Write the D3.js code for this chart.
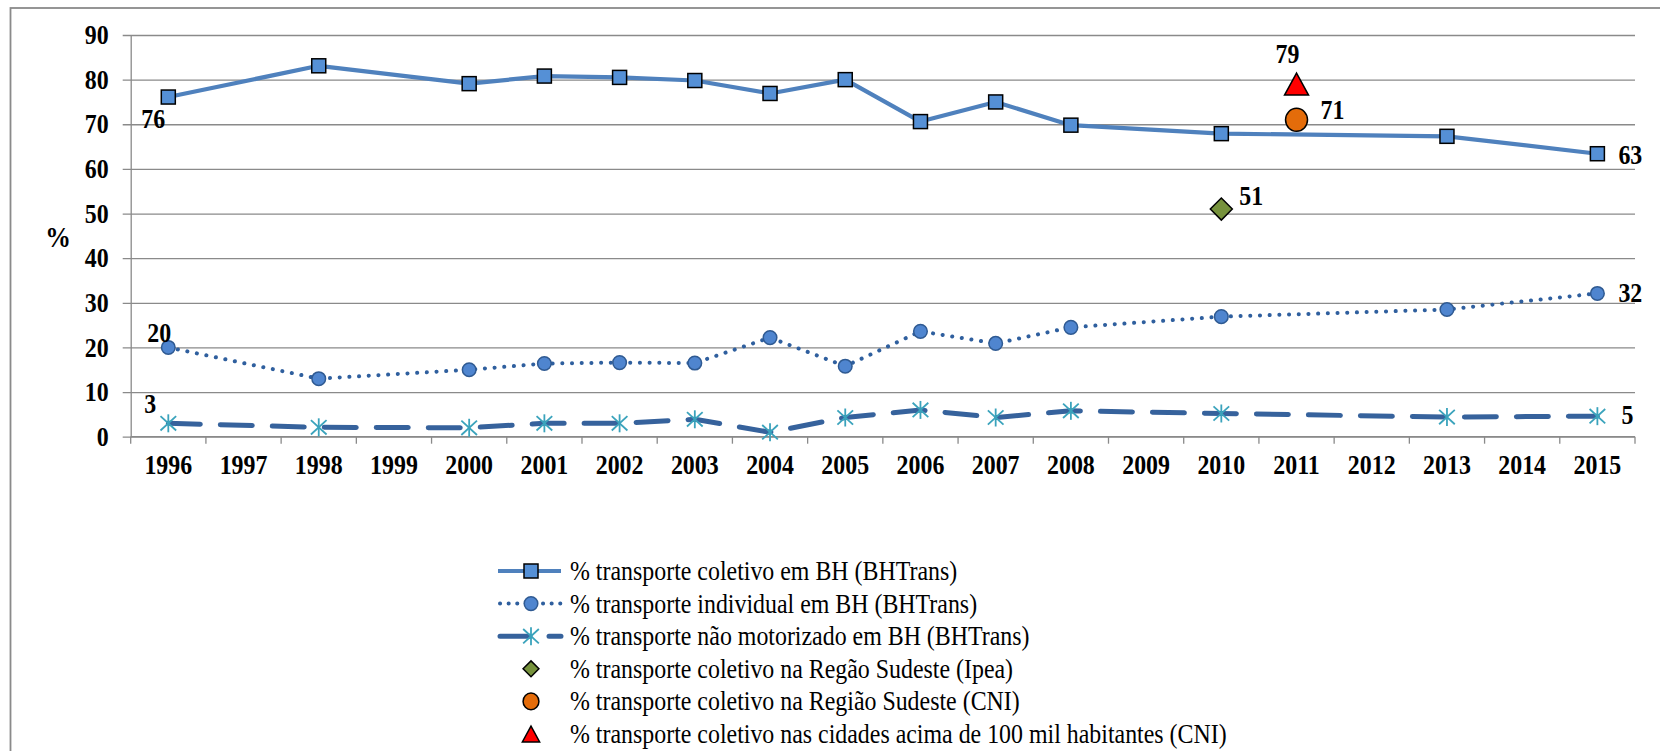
<!DOCTYPE html>
<html>
<head>
<meta charset="utf-8">
<script src="https://cdn.jsdelivr.net/npm/d3@7"></script>
<style>
  html, body { margin: 0; padding: 0; background: #fff; }
  svg { display: block; }
  text { font-family: "Liberation Serif", "Times New Roman", serif; }
</style>
</head>
<body>
<svg id="chart" width="1660" height="751"></svg>
<script>
// ---------- data ----------
const categories = ["1996","1997","1998","1999","2000","2001","2002","2003","2004","2005",
                    "2006","2007","2008","2009","2010","2011","2012","2013","2014","2015"];
const coletivoBH   = [76.1, null, 83.1, null, 79.1, 80.8, 80.5, 79.8, 76.9, 80.0,
                      70.6, 75.0, 69.8, null, 67.9, null, null, 67.3, null, 63.4];
const individualBH = [20.0, null, 13.0, null, 15.0, 16.4, 16.6, 16.5, 22.2, 15.8,
                      23.6, 20.9, 24.5, null, 26.9, null, null, 28.5, null, 32.1];
const naoMotorBH   = [3.0, null, 2.1, null, 2.0, 3.0, 3.0, 3.9, 1.0, 4.3,
                      6.0, 4.3, 5.8, null, 5.2, null, null, 4.4, null, 4.6];
const ipeaSudeste  = [{year: "2010", value: 51}];
const cniSudeste   = [{year: "2011", value: 71}];
const cni100mil    = [{year: "2011", value: 79}];
const yTicks = [0, 10, 20, 30, 40, 50, 60, 70, 80, 90];
const legendLabels = [
  "% transporte coletivo em BH (BHTrans)",
  "% transporte individual em BH (BHTrans)",
  "% transporte não motorizado em BH (BHTrans)",
  "% transporte coletivo na Regão Sudeste (Ipea)",
  "% transporte coletivo na Região Sudeste (CNI)",
  "% transporte coletivo nas cidades acima de 100 mil habitantes (CNI)"
];
const yAxisTitle = "%";

// ---------- layout ----------
const svg = d3.select("#chart");
const plot = {left: 130.7, right: 1635, top: 35, bottom: 436.7};

const x = d3.scaleBand().domain(categories).range([plot.left, plot.right]).padding(0);
const y = d3.scaleLinear().domain([0, 90]).range([plot.bottom, plot.top]);
const cx = c => x(c) + x.bandwidth() / 2;

const gridColor = "#8a8a8a";
const fontFam = '"Liberation Serif", "Times New Roman", serif';
const FS = 27;          // font size
const SX = 0.885;       // horizontal text compression seen in the reference

// outer frame (extends beyond right/bottom edges)
svg.append("rect")
  .attr("x", 10.5).attr("y", 8)
  .attr("width", 1700).attr("height", 800)
  .attr("fill", "none").attr("stroke", gridColor).attr("stroke-width", 1.8);

// gridlines + y axis
const yAxis = d3.axisLeft(y).tickValues(yTicks)
  .tickSize(-(plot.right - plot.left)).tickSizeOuter(0).tickPadding(22);
const gy = svg.append("g").attr("transform", `translate(${plot.left},0)`).call(yAxis);
gy.attr("font-family", null).attr("font-size", null);
gy.select(".domain").attr("stroke", gridColor).attr("stroke-width", 1.3);
gy.selectAll(".tick line")
  .attr("x1", -8)
  .attr("stroke", gridColor).attr("stroke-width", 1.3);
gy.selectAll(".tick text")
  .attr("font-family", fontFam).attr("font-size", FS).attr("font-weight", "bold")
  .attr("fill", "#000");

// x axis with ticks at category boundaries
const gx = svg.append("g").attr("transform", `translate(0,${plot.bottom})`)
  .call(d3.axisBottom(x).tickSize(0));
gx.attr("font-family", null).attr("font-size", null);
gx.select(".domain").remove();
gx.selectAll(".tick text")
  .attr("y", 37.5).attr("dy", null)
  .attr("font-family", fontFam).attr("font-size", FS).attr("font-weight", "bold")
  .attr("fill", "#000");
gx.selectAll(".tick line").remove();
const boundaries = categories.map(c => x(c)).concat([x(categories[categories.length - 1]) + x.bandwidth()]);
svg.append("g").selectAll("line").data(boundaries).join("line")
  .attr("x1", d => d).attr("x2", d => d)
  .attr("y1", plot.bottom).attr("y2", plot.bottom + 7)
  .attr("stroke", gridColor).attr("stroke-width", 1.3);
svg.append("line")
  .attr("x1", plot.left).attr("x2", plot.right)
  .attr("y1", plot.bottom).attr("y2", plot.bottom)
  .attr("stroke", gridColor).attr("stroke-width", 1.3);

// y axis title
svg.append("text").text(yAxisTitle)
  .attr("x", 58).attr("y", 247)
  .attr("text-anchor", "middle")
  .attr("font-family", fontFam).attr("font-size", 29).attr("font-weight", "bold");

// ---------- series ----------
const toPoints = arr => categories.map((c, i) => ({c, v: arr[i]})).filter(d => d.v != null);
const line = d3.line().x(d => cx(d.c)).y(d => y(d.v));

const s1 = toPoints(coletivoBH), s2 = toPoints(individualBH), s3 = toPoints(naoMotorBH);

const styles = {
  s1: {stroke: "#4F81BD", width: 4.2},
  s2: {stroke: "#2F5F9E", width: 4, dash: "0.1,9.6"},
  s3: {stroke: "#36629C", width: 5, dash: "32,20"}
};

svg.append("path").datum(s3).attr("d", line)
  .attr("fill", "none").attr("stroke", styles.s3.stroke).attr("stroke-width", styles.s3.width)
  .attr("stroke-dasharray", styles.s3.dash).attr("stroke-linecap", "round").attr("stroke-linejoin", "round");
svg.append("path").datum(s2).attr("d", line)
  .attr("fill", "none").attr("stroke", styles.s2.stroke).attr("stroke-width", styles.s2.width)
  .attr("stroke-dasharray", styles.s2.dash).attr("stroke-linecap", "round");
svg.append("path").datum(s1).attr("d", line)
  .attr("fill", "none").attr("stroke", styles.s1.stroke).attr("stroke-width", styles.s1.width)
  .attr("stroke-linejoin", "round");

// marker drawers (k = size factor)
function square(g, px, py, k = 1) {
  const s = 14 * k;
  g.append("rect").attr("x", px - s / 2).attr("y", py - s / 2).attr("width", s).attr("height", s)
    .attr("fill", "#5590D6").attr("stroke", "#000").attr("stroke-width", 1.5);
}
function dot(g, px, py, k = 1) {
  g.append("circle").attr("cx", px).attr("cy", py).attr("r", 6.8 * k)
    .attr("fill", "#4F85CF").attr("stroke", "#2F5A92").attr("stroke-width", 1.5);
}
function star(g, px, py, k = 1) {
  const r = 9 * k, c = "#3AA3BC";
  const gg = g.append("g").attr("stroke", c).attr("stroke-width", 1.8);
  gg.append("line").attr("x1", px).attr("x2", px).attr("y1", py - r).attr("y2", py + r);
  gg.append("line").attr("x1", px - r * 0.87).attr("x2", px + r * 0.87).attr("y1", py - r * 0.8).attr("y2", py + r * 0.8);
  gg.append("line").attr("x1", px - r * 0.87).attr("x2", px + r * 0.87).attr("y1", py + r * 0.8).attr("y2", py - r * 0.8);
}
function diamond(g, px, py, k = 1) {
  const r = 11 * k;
  g.append("path").attr("d", `M${px},${py - r}L${px + r},${py}L${px},${py + r}L${px - r},${py}Z`)
    .attr("fill", "#76923C").attr("stroke", "#000").attr("stroke-width", 1.5);
}
function orange(g, px, py, k = 1) {
  g.append("ellipse").attr("cx", px).attr("cy", py).attr("rx", 11 * k).attr("ry", 11.5 * k)
    .attr("fill", "#E46C0A").attr("stroke", "#000").attr("stroke-width", 1.5);
}
function triangle(g, px, py, k = 1) {
  const w = 12 * k, h = 11 * k;
  g.append("path").attr("d", `M${px},${py - h}L${px + w},${py + h}L${px - w},${py + h}Z`)
    .attr("fill", "#FF0000").attr("stroke", "#000").attr("stroke-width", 1.5);
}

const mk = svg.append("g");
s3.forEach(d => star(mk, cx(d.c), y(d.v)));
s2.forEach(d => dot(mk, cx(d.c), y(d.v)));
s1.forEach(d => square(mk, cx(d.c), y(d.v)));
ipeaSudeste.forEach(d => diamond(mk, cx(d.year), y(d.value)));
cniSudeste.forEach(d => orange(mk, cx(d.year), y(d.value)));
cni100mil.forEach(d => triangle(mk, cx(d.year), y(d.value)));

// ---------- data labels ----------
const fmt = d3.format(".0f");
const labels = svg.append("g");
function label(txt, px, py, anchor) {
  labels.append("text").text(txt).attr("x", px).attr("y", py).attr("text-anchor", anchor || "start")
    .attr("font-family", fontFam).attr("font-size", FS).attr("font-weight", "bold").attr("fill", "#000");
}
const first = a => a[0], last = a => a[a.length - 1];
label(fmt(first(s1).v), cx(first(s1).c) - 15, y(first(s1).v) + 31, "middle");
label(fmt(first(s2).v), cx(first(s2).c) - 9, y(first(s2).v) - 5, "middle");
label(fmt(first(s3).v), cx(first(s3).c) - 18, y(first(s3).v) - 10, "middle");
label(fmt(last(s1).v), cx(last(s1).c) + 21, y(last(s1).v) + 10);
label(fmt(last(s2).v), cx(last(s2).c) + 21, y(last(s2).v) + 9);
label(fmt(last(s3).v), cx(last(s3).c) + 24, y(last(s3).v) + 8);
ipeaSudeste.forEach(d => label(fmt(d.value), cx(d.year) + 18, y(d.value) - 4));
cniSudeste.forEach(d => label(fmt(d.value), cx(d.year) + 24, y(d.value) - 1));
cni100mil.forEach(d => label(fmt(d.value), cx(d.year) - 9, y(d.value) - 21, "middle"));

// ---------- legend ----------
const leg = svg.append("g");
const legY0 = 571, legStep = 32.6, lx0 = 498, lx1 = 561, lm = 531, tx = 570;
const legendMarkers = [square, dot, star, diamond, orange, triangle];
legendLabels.forEach((t, i) => {
  const ly = legY0 + i * legStep;
  if (i === 0) {
    leg.append("line").attr("x1", lx0).attr("x2", lx1).attr("y1", ly).attr("y2", ly)
      .attr("stroke", styles.s1.stroke).attr("stroke-width", styles.s1.width);
  } else if (i === 1) {
    leg.append("line").attr("x1", lx0 + 2).attr("x2", lx1).attr("y1", ly).attr("y2", ly)
      .attr("stroke", styles.s2.stroke).attr("stroke-width", styles.s2.width)
      .attr("stroke-dasharray", "0.1,8.5").attr("stroke-linecap", "round");
  } else if (i === 2) {
    leg.append("line").attr("x1", lx0 + 2).attr("x2", lx1).attr("y1", ly).attr("y2", ly)
      .attr("stroke", styles.s3.stroke).attr("stroke-width", styles.s3.width)
      .attr("stroke-dasharray", "30,19").attr("stroke-linecap", "round");
  }
  legendMarkers[i](leg, lm, ly, i >= 3 ? 0.72 : 1);
  leg.append("text").text(t).attr("x", tx).attr("y", ly + 9)
    .attr("font-family", fontFam).attr("font-size", FS).attr("fill", "#000");
});

// horizontally compress all text like the reference
svg.selectAll("text").each(function () {
  const t = d3.select(this);
  const tx0 = +t.attr("x") || 0, ty0 = +t.attr("y") || 0;
  t.attr("x", 0).attr("y", 0).attr("transform", `translate(${tx0},${ty0}) scale(${SX},1)`);
});
</script>
</body>
</html>
